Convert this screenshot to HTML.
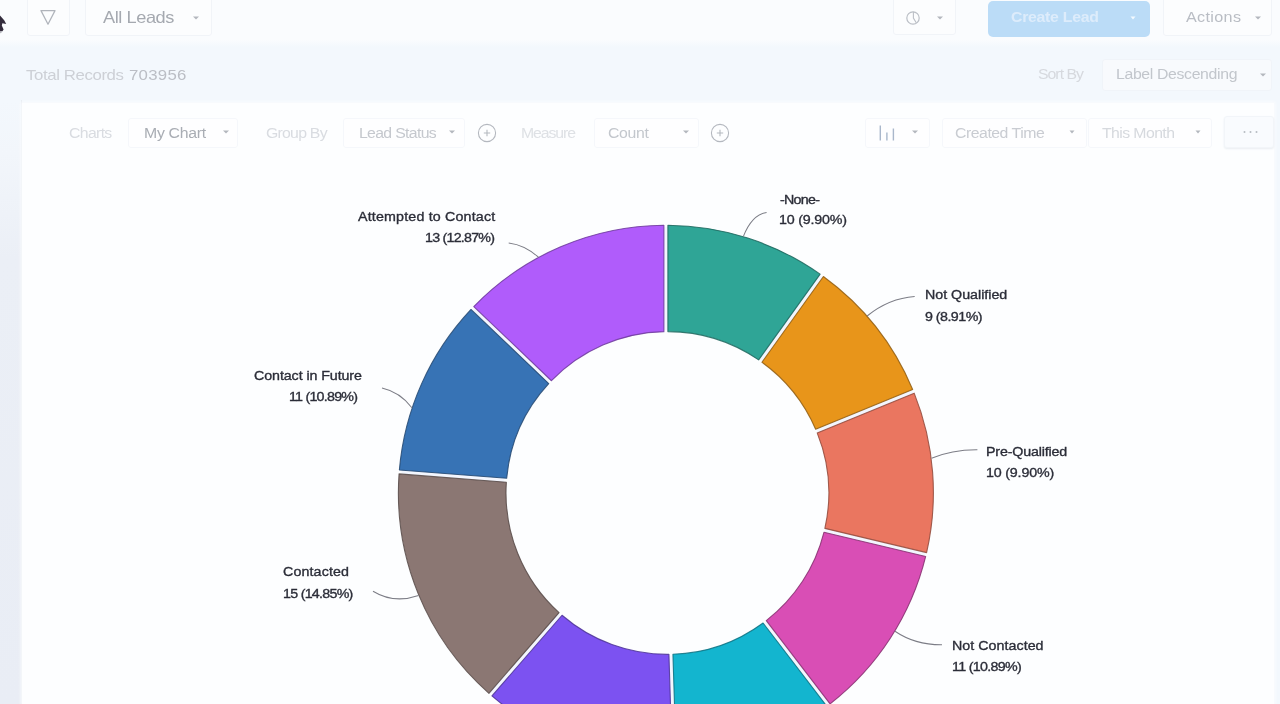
<!DOCTYPE html>
<html><head><meta charset="utf-8"><title>Leads</title>
<style>
*{box-sizing:border-box;margin:0;padding:0}
html,body{width:1280px;height:704px;overflow:hidden;background:#F3F8FD;font-family:"Liberation Sans",sans-serif;}
.abs{position:absolute}
.ic{filter:blur(.45px)}
.box{position:absolute;background:#FCFDFE;border:1px solid #F1F4F8;border-radius:3px;filter:blur(.5px)}
.t{position:absolute;white-space:nowrap;line-height:1;filter:blur(.5px);transform-origin:0 0}
.lb{filter:blur(.35px);-webkit-text-stroke:.35px #2B2D38}
#left{position:absolute;left:0;top:100px;width:22px;height:604px;background:linear-gradient(#F3F8FD,#F2F6FB 9%,#EBEFF6 26%,#E9EDF5);border-right:1px solid #E8ECF2;filter:blur(.5px)}
#panel{position:absolute;left:22px;top:103px;width:1252px;height:601px;background:#FDFEFF;box-shadow:0 0 3px 1px #FBFCFE}
</style></head><body>
<div class="abs" style="left:0;top:0;width:1280px;height:47px;background:linear-gradient(#FAFCFE 40px,#F3F8FD);"></div>
<div id="left"></div>
<div id="panel"></div>

<!-- top bar -->
<div class="box" style="left:27px;top:-3px;width:43px;height:39px;"></div>
<svg class="abs ic" style="left:38px;top:7px" width="20" height="20" viewBox="0 0 20 20"><path d="M3 3.6H17L10 17.2Z" fill="none" stroke="#B0B4BB" stroke-width="1.25" stroke-linejoin="round"/></svg>
<div class="box" style="left:85px;top:-3px;width:127px;height:39px;"></div>
<svg class="abs ic" style="left:191.0px;top:12.5px" width="10" height="10" viewBox="0 0 10 10"><path d="M2.0 3.4H8.0L5 6.6Z" fill="#B3B7BE"/></svg>
<div class="box" style="left:893px;top:-3px;width:63px;height:38px;"></div>
<svg class="abs ic" style="left:905.2px;top:9.8px" width="16" height="16" viewBox="0 0 16 16"><circle cx="8" cy="8" r="6.2" fill="none" stroke="#BBBFC6" stroke-width="1.2"/><path d="M8.4 1.8V8L11.4 13" fill="none" stroke="#BBBFC6" stroke-width="1.1"/></svg>
<svg class="abs ic" style="left:935.0px;top:13.0px" width="10" height="10" viewBox="0 0 10 10"><path d="M2.0 3.4H8.0L5 6.6Z" fill="#B3B7BE"/></svg>
<div class="abs" style="left:988px;top:.5px;width:162px;height:36.5px;background:#BBDCF7;border-radius:5px;filter:blur(.4px)"></div>
<svg class="abs ic" style="left:1127.5px;top:13.0px" width="10" height="10" viewBox="0 0 10 10"><path d="M2.5 3.5H7.5L5 6.5Z" fill="#F4FAFF"/></svg>
<div class="box" style="left:1163px;top:-3px;width:109px;height:39px;"></div>
<svg class="abs ic" style="left:1253.0px;top:13.0px" width="10" height="10" viewBox="0 0 10 10"><path d="M2.0 3.4H8.0L5 6.6Z" fill="#B3B7BE"/></svg>

<!-- second row -->
<div class="box" style="left:1102px;top:59px;width:170px;height:32px;background:#F8FAFD;border-color:#F0F4F9"></div>
<svg class="abs ic" style="left:1257.5px;top:69.5px" width="10" height="10" viewBox="0 0 10 10"><path d="M2.0 3.4H8.0L5 6.6Z" fill="#B3B7BE"/></svg>

<!-- chart toolbar -->
<div class="box" style="left:128px;top:118px;width:110px;height:30px;background:#FEFEFF;border-color:#F5F7FB"></div>
<svg class="abs ic" style="left:221.0px;top:126.5px" width="10" height="10" viewBox="0 0 10 10"><path d="M2.0 3.4H8.0L5 6.6Z" fill="#B3B7BE"/></svg>
<div class="box" style="left:343px;top:118px;width:122px;height:30px;background:#FEFEFF;border-color:#F5F7FB"></div>
<svg class="abs ic" style="left:447.0px;top:126.6px" width="10" height="10" viewBox="0 0 10 10"><path d="M2.0 3.4H8.0L5 6.6Z" fill="#B3B7BE"/></svg>
<svg class="abs ic" style="left:475.5px;top:121.5px" width="22" height="22" viewBox="0 0 22 22"><circle cx="11" cy="11" r="8.6" fill="none" stroke="#B4B8BF" stroke-width="1.1"/><path d="M11 7.8V14.2M7.8 11H14.2" stroke="#B4B8BF" stroke-width="1.1"/></svg>
<div class="box" style="left:594px;top:118px;width:105px;height:30px;background:#FEFEFF;border-color:#F5F7FB"></div>
<svg class="abs ic" style="left:681.0px;top:126.6px" width="10" height="10" viewBox="0 0 10 10"><path d="M2.0 3.4H8.0L5 6.6Z" fill="#B3B7BE"/></svg>
<svg class="abs ic" style="left:709.4px;top:121.5px" width="22" height="22" viewBox="0 0 22 22"><circle cx="11" cy="11" r="8.6" fill="none" stroke="#B4B8BF" stroke-width="1.1"/><path d="M11 7.8V14.2M7.8 11H14.2" stroke="#B4B8BF" stroke-width="1.1"/></svg>
<div class="box" style="left:865px;top:118px;width:65px;height:30px;background:#FEFEFF;border-color:#F5F7FB"></div>
<svg class="abs ic" style="left:876px;top:122px" width="22" height="22" viewBox="0 0 22 22"><path d="M4.3 3.4V18.4M10.9 10.6V18.4M17.4 6.6V18.4" stroke="#A9B7CB" stroke-width="1.4" fill="none"/></svg>
<svg class="abs ic" style="left:909.5px;top:127.0px" width="10" height="10" viewBox="0 0 10 10"><path d="M2.0 3.4H8.0L5 6.6Z" fill="#B3B7BE"/></svg>
<div class="box" style="left:942px;top:118px;width:145px;height:30px;background:#FEFEFF;border-color:#F5F7FB"></div>
<svg class="abs ic" style="left:1066.7px;top:127.0px" width="10" height="10" viewBox="0 0 10 10"><path d="M2.5 3.5H7.5L5 6.5Z" fill="#B3B7BE"/></svg>
<div class="box" style="left:1088px;top:118px;width:124px;height:30px;background:#FEFEFF;border-color:#F5F7FB"></div>
<svg class="abs ic" style="left:1192.7px;top:127.0px" width="10" height="10" viewBox="0 0 10 10"><path d="M2.5 3.5H7.5L5 6.5Z" fill="#B3B7BE"/></svg>
<div class="box" style="left:1224px;top:116px;width:50px;height:32px;background:#F9FBFE;border-color:#F2F5F9;box-shadow:0 1px 2px #E9EDF2"></div>
<svg class="abs ic" style="left:1240px;top:127px" width="22" height="10" viewBox="0 0 22 10"><circle cx="4.5" cy="5" r="1" fill="#B7BBC2"/><circle cx="10.5" cy="5" r="1" fill="#B7BBC2"/><circle cx="16.5" cy="5" r="1" fill="#B7BBC2"/></svg>

<!-- donut -->
<svg class="abs" style="left:0;top:0;filter:blur(.4px)" width="1280" height="704" viewBox="0 0 1280 704">
<circle cx="666.65" cy="492.85" r="214.45" fill="none" stroke="#F3F6FE" stroke-width="103.10"/>
<g stroke-width="1.1" stroke-opacity=".85" stroke-linejoin="round">
<path d="M667.90 225.21A267.5 267.5 0 0 1 820.15 274.15L758.67 359.88A161.4 161.4 0 0 0 667.90 331.60Z" fill="#2FA596" stroke="#1D665D"/>
<path d="M823.40 276.49A267.5 267.5 0 0 1 912.67 389.45L815.64 429.18A161.4 161.4 0 0 0 761.95 362.20Z" fill="#E8951A" stroke="#8F5C10"/>
<path d="M914.19 393.15A267.5 267.5 0 0 1 926.61 552.59L824.87 528.40A161.4 161.4 0 0 0 817.19 432.90Z" fill="#EA7660" stroke="#91493B"/>
<path d="M925.68 556.48A267.5 267.5 0 0 1 830.05 703.91L766.28 620.56A161.4 161.4 0 0 0 823.94 532.33Z" fill="#D94EB5" stroke="#863070"/>
<path d="M826.88 706.34A267.5 267.5 0 0 1 676.22 760.00L672.93 654.31A161.4 161.4 0 0 0 763.07 622.99Z" fill="#13B5CF" stroke="#0B7080"/>
<path d="M672.22 760.13A267.5 267.5 0 0 1 491.95 695.92L562.03 615.26A161.4 161.4 0 0 0 668.93 654.39Z" fill="#7C52F1" stroke="#4C3295"/>
<path d="M488.93 693.30A267.5 267.5 0 0 1 399.06 473.91L506.36 482.26A161.4 161.4 0 0 0 559.05 612.63Z" fill="#8B7773" stroke="#564947"/>
<path d="M399.37 469.93A267.5 267.5 0 0 1 471.01 309.46L548.72 383.61A161.4 161.4 0 0 0 506.67 478.31Z" fill="#3773B5" stroke="#224770"/>
<path d="M473.77 306.57A267.5 267.5 0 0 1 663.90 225.21L663.90 331.64A161.4 161.4 0 0 0 551.45 380.73Z" fill="#B05CFB" stroke="#6D399B"/>
</g>
<g fill="none" stroke="#7C7D86" stroke-width="1.05">
<path d="M743.4 236.4Q751.9 214.7 766.6 212.4"/>
<path d="M867.1 316.0Q889 298.3 914.7 296.5"/>
<path d="M931.5 458.3Q952 449.5 977.4 449.7"/>
<path d="M895.0 631.3Q915 645 942 644.8"/>
<path d="M538.4 257.2Q525 245 508.7 243"/>
<path d="M411.9 407.8Q400 392 382 388"/>
<path d="M418.6 595.5Q394 604 373 591.2"/>
</g>
</svg>

<div class="t" style="left:103.00px;top:9.60px;font-size:16.72px;letter-spacing:-0.40px;color:#A5A9B0;transform:scaleX(1.09);">All Leads</div>
<div class="t" style="left:1011.00px;top:10.29px;font-size:14.53px;letter-spacing:-0.25px;color:#DDECFB;transform:scaleX(1.09);font-weight:bold;">Create Lead</div>
<div class="t" style="left:1186.00px;top:10.05px;font-size:14.83px;letter-spacing:0.31px;color:#B9BDC4;transform:scaleX(1.09);">Actions</div>
<div class="t" style="left:26.20px;top:66.75px;font-size:15.41px;letter-spacing:-0.36px;color:#CDD0D6;transform:scaleX(1.09);">Total Records</div>
<div class="t" style="left:129.00px;top:66.75px;font-size:15.41px;letter-spacing:0.24px;color:#BBBEC5;transform:scaleX(1.09);">703956</div>
<div class="t" style="left:1038.30px;top:67.29px;font-size:14.53px;letter-spacing:-0.91px;color:#D6D9DE;transform:scaleX(1.09);">Sort By</div>
<div class="t" style="left:1116.00px;top:67.29px;font-size:14.53px;letter-spacing:-0.32px;color:#C2C6CC;transform:scaleX(1.09);">Label Descending</div>
<div class="t" style="left:68.70px;top:125.69px;font-size:14.53px;letter-spacing:-0.61px;color:#D9DCE1;transform:scaleX(1.09);">Charts</div>
<div class="t" style="left:143.70px;top:125.69px;font-size:14.53px;letter-spacing:-0.27px;color:#A9ADB4;transform:scaleX(1.09);">My Chart</div>
<div class="t" style="left:265.60px;top:125.69px;font-size:14.53px;letter-spacing:-0.69px;color:#D9DCE1;transform:scaleX(1.09);">Group By</div>
<div class="t" style="left:358.90px;top:125.69px;font-size:14.53px;letter-spacing:-0.62px;color:#C5C8CE;transform:scaleX(1.09);">Lead Status</div>
<div class="t" style="left:521.00px;top:125.69px;font-size:14.53px;letter-spacing:-1.00px;color:#DEE1E5;transform:scaleX(1.09);">Measure</div>
<div class="t" style="left:608.20px;top:125.69px;font-size:14.53px;letter-spacing:-0.33px;color:#C3C7CD;transform:scaleX(1.09);">Count</div>
<div class="t" style="left:954.80px;top:125.69px;font-size:14.53px;letter-spacing:-0.44px;color:#C9CCD2;transform:scaleX(1.09);">Created Time</div>
<div class="t" style="left:1102.00px;top:125.69px;font-size:14.53px;letter-spacing:-0.54px;color:#D6D9DE;transform:scaleX(1.09);">This Month</div>
<div class="t lb" style="left:779.75px;top:192.67px;font-size:13.08px;letter-spacing:-0.66px;color:#2B2D38;transform:scaleX(1.09);">-None-</div>
<div class="t lb" style="left:779.40px;top:212.92px;font-size:13.08px;letter-spacing:-0.17px;color:#2B2D38;transform:scaleX(1.09);">10 (9.90%)</div>
<div class="t lb" style="left:925.00px;top:288.32px;font-size:13.08px;letter-spacing:-0.01px;color:#2B2D38;transform:scaleX(1.09);">Not Qualified</div>
<div class="t lb" style="left:925.00px;top:309.52px;font-size:13.08px;letter-spacing:-0.49px;color:#2B2D38;transform:scaleX(1.09);">9 (8.91%)</div>
<div class="t lb" style="left:986.25px;top:444.92px;font-size:13.08px;letter-spacing:-0.15px;color:#2B2D38;transform:scaleX(1.09);">Pre-Qualified</div>
<div class="t lb" style="left:986.25px;top:466.42px;font-size:13.08px;letter-spacing:-0.16px;color:#2B2D38;transform:scaleX(1.09);">10 (9.90%)</div>
<div class="t lb" style="left:952.25px;top:639.17px;font-size:13.08px;letter-spacing:0.03px;color:#2B2D38;transform:scaleX(1.09);">Not Contacted</div>
<div class="t lb" style="left:952.25px;top:660.42px;font-size:13.08px;letter-spacing:-0.64px;color:#2B2D38;transform:scaleX(1.09);">11 (10.89%)</div>
<div class="t lb" style="left:357.75px;top:209.52px;font-size:13.08px;letter-spacing:0.16px;color:#2B2D38;transform:scaleX(1.09);">Attempted to Contact</div>
<div class="t lb" style="left:425.00px;top:230.82px;font-size:13.08px;letter-spacing:-0.70px;color:#2B2D38;transform:scaleX(1.09);">13 (12.87%)</div>
<div class="t lb" style="left:253.50px;top:368.67px;font-size:13.08px;letter-spacing:-0.08px;color:#2B2D38;transform:scaleX(1.09);">Contact in Future</div>
<div class="t lb" style="left:288.50px;top:389.92px;font-size:13.08px;letter-spacing:-0.70px;color:#2B2D38;transform:scaleX(1.09);">11 (10.89%)</div>
<div class="t lb" style="left:283.10px;top:565.17px;font-size:13.08px;letter-spacing:0.11px;color:#2B2D38;transform:scaleX(1.09);">Contacted</div>
<div class="t lb" style="left:283.10px;top:586.82px;font-size:13.08px;letter-spacing:-0.67px;color:#2B2D38;transform:scaleX(1.09);">15 (14.85%)</div>

<!-- cursor fragment -->
<svg class="abs" style="left:0;top:10px;filter:blur(.55px)" width="12" height="30" viewBox="0 0 12 30"><path d="M0 5.5L4.2 10.2L6.2 14L2.4 13.2L1.8 15.5L3.6 19.5L2.4 21.2L0 21.4Z" fill="#332C3C"/><path d="M0 21.4L2.4 21.2L1.2 23L0 23.2Z" fill="#B9B9C0"/></svg>
</body></html>
